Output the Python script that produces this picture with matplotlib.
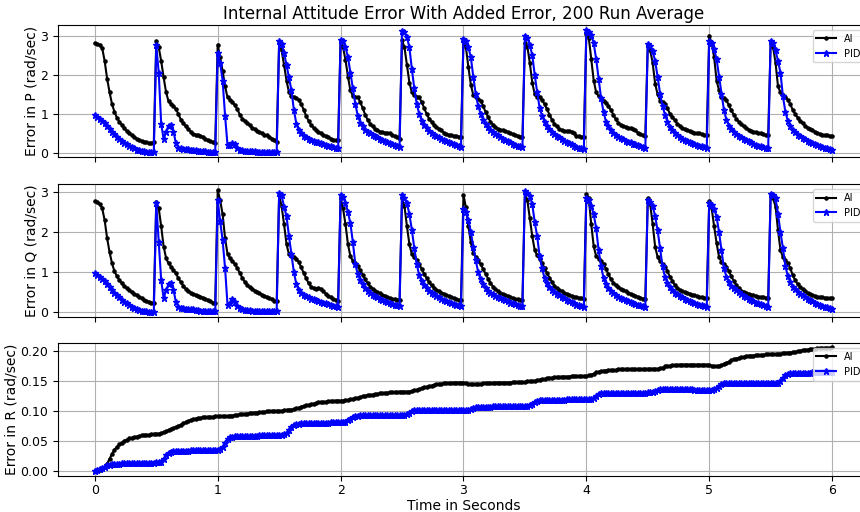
import numpy as np
import matplotlib
matplotlib.use("Agg")
import matplotlib.pyplot as plt
from matplotlib.ticker import MultipleLocator, FormatStrFormatter

# sample step of the logged runs (s)
dt = 0.02

# error in P, one list per half-second disturbance (25 samples each)
p_ai_segments = [
    [2.80, 2.79, 2.76, 2.68, 2.35, 1.90, 1.55, 1.25, 1.05, 0.90, 0.80, 0.72, 0.63, 0.56, 0.50, 0.45, 0.40, 0.36, 0.33, 0.31, 0.29, 0.27, 0.26, 0.26, 0.27],
    [2.86, 2.70, 2.35, 1.93, 1.55, 1.32, 1.26, 1.20, 1.12, 1.00, 0.85, 0.76, 0.68, 0.62, 0.55, 0.49, 0.47, 0.45, 0.44, 0.41, 0.37, 0.33, 0.30, 0.27, 0.26],
    [2.77, 2.44, 2.10, 1.70, 1.42, 1.36, 1.30, 1.22, 1.12, 0.98, 0.88, 0.82, 0.76, 0.71, 0.65, 0.61, 0.57, 0.53, 0.50, 0.47, 0.45, 0.41, 0.37, 0.33, 0.28],
    [2.82, 2.62, 2.25, 1.85, 1.55, 1.45, 1.42, 1.40, 1.35, 1.25, 1.10, 0.95, 0.82, 0.72, 0.65, 0.60, 0.55, 0.50, 0.46, 0.43, 0.40, 0.37, 0.34, 0.33, 0.33],
    [2.85, 2.70, 2.38, 1.95, 1.60, 1.45, 1.43, 1.42, 1.30, 1.15, 0.98, 0.85, 0.75, 0.68, 0.62, 0.58, 0.55, 0.53, 0.52, 0.51, 0.50, 0.47, 0.43, 0.40, 0.37],
    [2.88, 2.70, 2.25, 1.80, 1.55, 1.47, 1.44, 1.42, 1.30, 1.15, 1.00, 0.88, 0.80, 0.72, 0.66, 0.62, 0.58, 0.52, 0.48, 0.46, 0.45, 0.44, 0.43, 0.42, 0.41],
    [2.86, 2.70, 2.20, 1.75, 1.48, 1.42, 1.38, 1.34, 1.20, 1.05, 0.92, 0.80, 0.72, 0.66, 0.62, 0.60, 0.58, 0.56, 0.53, 0.50, 0.48, 0.46, 0.44, 0.42, 0.40],
    [2.80, 2.72, 2.30, 1.80, 1.50, 1.44, 1.42, 1.35, 1.25, 1.12, 0.98, 0.85, 0.75, 0.68, 0.62, 0.58, 0.57, 0.56, 0.56, 0.55, 0.50, 0.44, 0.43, 0.42, 0.42],
    [3.05, 2.95, 2.40, 1.85, 1.55, 1.45, 1.40, 1.34, 1.28, 1.20, 1.10, 0.98, 0.86, 0.78, 0.72, 0.69, 0.67, 0.65, 0.63, 0.62, 0.58, 0.52, 0.48, 0.45, 0.44],
    [2.75, 2.62, 2.30, 1.77, 1.50, 1.34, 1.30, 1.26, 1.15, 1.00, 0.92, 0.84, 0.75, 0.70, 0.65, 0.61, 0.58, 0.56, 0.54, 0.52, 0.51, 0.50, 0.48, 0.46, 0.45],
    [3.00, 2.80, 2.45, 1.85, 1.60, 1.43, 1.40, 1.35, 1.22, 1.09, 0.98, 0.88, 0.80, 0.74, 0.68, 0.63, 0.60, 0.57, 0.55, 0.53, 0.51, 0.50, 0.48, 0.46, 0.45],
    [2.80, 2.70, 2.30, 1.70, 1.55, 1.47, 1.43, 1.36, 1.25, 1.10, 1.00, 0.90, 0.82, 0.76, 0.70, 0.65, 0.61, 0.58, 0.55, 0.52, 0.49, 0.47, 0.46, 0.45, 0.44],
]
p_ai_last = 0.43

p_pid_segments = [
    [0.97, 0.93, 0.88, 0.82, 0.76, 0.69, 0.62, 0.55, 0.48, 0.42, 0.36, 0.31, 0.26, 0.22, 0.18, 0.15, 0.12, 0.09, 0.07, 0.05, 0.04, 0.03, 0.02, 0.02, 0.02],
    [2.75, 2.05, 0.75, 0.35, 0.55, 0.70, 0.72, 0.55, 0.25, 0.14, 0.12, 0.11, 0.10, 0.10, 0.09, 0.08, 0.07, 0.06, 0.05, 0.04, 0.04, 0.03, 0.03, 0.03, 0.03],
    [2.55, 2.30, 1.85, 0.95, 0.20, 0.20, 0.26, 0.22, 0.13, 0.09, 0.07, 0.06, 0.05, 0.05, 0.04, 0.04, 0.03, 0.03, 0.03, 0.02, 0.02, 0.02, 0.02, 0.02, 0.02],
    [2.85, 2.78, 2.55, 2.25, 1.93, 1.60, 1.10, 0.75, 0.58, 0.50, 0.44, 0.40, 0.37, 0.34, 0.31, 0.29, 0.27, 0.25, 0.23, 0.21, 0.19, 0.17, 0.15, 0.14, 0.13],
    [2.89, 2.85, 2.70, 2.45, 2.05, 1.65, 1.25, 0.95, 0.78, 0.68, 0.60, 0.54, 0.50, 0.46, 0.43, 0.40, 0.37, 0.34, 0.31, 0.28, 0.26, 0.23, 0.21, 0.18, 0.15],
    [3.11, 3.08, 2.96, 2.70, 2.15, 1.65, 1.25, 1.00, 0.83, 0.72, 0.63, 0.56, 0.51, 0.47, 0.43, 0.40, 0.36, 0.33, 0.30, 0.27, 0.25, 0.22, 0.20, 0.18, 0.16],
    [2.92, 2.85, 2.70, 2.45, 1.95, 1.50, 1.20, 1.00, 0.85, 0.75, 0.67, 0.60, 0.54, 0.49, 0.45, 0.41, 0.37, 0.33, 0.30, 0.27, 0.24, 0.21, 0.19, 0.17, 0.15],
    [3.00, 2.95, 2.75, 2.50, 2.00, 1.55, 1.15, 0.95, 0.80, 0.70, 0.62, 0.55, 0.49, 0.44, 0.40, 0.36, 0.32, 0.28, 0.25, 0.22, 0.19, 0.16, 0.14, 0.12, 0.10],
    [3.13, 3.10, 3.02, 2.80, 2.40, 1.90, 1.40, 1.05, 0.80, 0.68, 0.58, 0.52, 0.47, 0.42, 0.38, 0.35, 0.32, 0.29, 0.27, 0.24, 0.22, 0.20, 0.17, 0.15, 0.13],
    [2.79, 2.74, 2.60, 2.35, 1.95, 1.52, 1.20, 0.98, 0.80, 0.66, 0.58, 0.51, 0.45, 0.41, 0.37, 0.34, 0.31, 0.28, 0.25, 0.23, 0.21, 0.19, 0.17, 0.15, 0.14],
    [2.85, 2.80, 2.65, 2.40, 1.95, 1.52, 1.10, 0.85, 0.70, 0.61, 0.55, 0.49, 0.44, 0.40, 0.36, 0.33, 0.30, 0.27, 0.24, 0.21, 0.19, 0.17, 0.15, 0.13, 0.12],
    [2.87, 2.80, 2.62, 2.35, 2.05, 1.45, 1.05, 0.82, 0.68, 0.60, 0.53, 0.47, 0.43, 0.39, 0.35, 0.32, 0.29, 0.26, 0.23, 0.20, 0.18, 0.16, 0.14, 0.12, 0.11],
]
p_pid_last = 0.09

# error in Q
q_ai_segments = [
    [2.77, 2.75, 2.70, 2.60, 2.30, 1.85, 1.50, 1.22, 1.02, 0.90, 0.80, 0.72, 0.65, 0.60, 0.55, 0.50, 0.46, 0.43, 0.39, 0.35, 0.31, 0.28, 0.26, 0.24, 0.23],
    [2.75, 2.60, 2.15, 1.64, 1.35, 1.22, 1.14, 1.06, 0.97, 0.85, 0.75, 0.66, 0.58, 0.53, 0.49, 0.46, 0.43, 0.41, 0.39, 0.36, 0.33, 0.30, 0.27, 0.24, 0.23],
    [3.05, 2.80, 2.45, 1.85, 1.45, 1.35, 1.28, 1.20, 1.10, 0.98, 0.86, 0.76, 0.68, 0.62, 0.58, 0.54, 0.50, 0.47, 0.44, 0.41, 0.38, 0.35, 0.32, 0.29, 0.27],
    [2.92, 2.65, 2.20, 1.70, 1.45, 1.40, 1.37, 1.33, 1.25, 1.12, 0.98, 0.85, 0.72, 0.64, 0.60, 0.58, 0.60, 0.58, 0.52, 0.46, 0.41, 0.37, 0.34, 0.31, 0.29],
    [2.85, 2.60, 2.20, 1.70, 1.40, 1.28, 1.22, 1.15, 1.05, 0.93, 0.82, 0.72, 0.64, 0.59, 0.54, 0.50, 0.47, 0.44, 0.41, 0.38, 0.35, 0.33, 0.32, 0.31, 0.30],
    [2.85, 2.65, 2.15, 1.70, 1.45, 1.38, 1.30, 1.20, 1.08, 0.96, 0.85, 0.75, 0.67, 0.61, 0.56, 0.52, 0.49, 0.46, 0.43, 0.40, 0.37, 0.35, 0.33, 0.31, 0.30],
    [2.94, 2.62, 2.15, 1.75, 1.48, 1.38, 1.30, 1.20, 1.08, 0.96, 0.84, 0.73, 0.64, 0.58, 0.53, 0.49, 0.46, 0.43, 0.40, 0.37, 0.35, 0.33, 0.32, 0.31, 0.30],
    [2.97, 2.80, 2.35, 1.90, 1.55, 1.42, 1.32, 1.22, 1.10, 0.98, 0.86, 0.76, 0.66, 0.60, 0.56, 0.52, 0.49, 0.46, 0.43, 0.40, 0.38, 0.37, 0.36, 0.35, 0.34],
    [2.96, 2.85, 2.20, 1.65, 1.40, 1.34, 1.28, 1.20, 1.08, 0.95, 0.82, 0.74, 0.67, 0.62, 0.58, 0.55, 0.52, 0.49, 0.46, 0.43, 0.41, 0.38, 0.36, 0.34, 0.33],
    [2.85, 2.70, 2.20, 1.64, 1.38, 1.28, 1.20, 1.14, 1.02, 0.89, 0.78, 0.68, 0.60, 0.56, 0.53, 0.50, 0.48, 0.46, 0.44, 0.42, 0.40, 0.38, 0.37, 0.36, 0.35],
    [2.77, 2.60, 2.15, 1.73, 1.38, 1.26, 1.20, 1.14, 1.02, 0.90, 0.78, 0.68, 0.60, 0.54, 0.51, 0.48, 0.46, 0.44, 0.42, 0.40, 0.39, 0.38, 0.37, 0.36, 0.35],
    [2.95, 2.85, 2.64, 2.05, 1.55, 1.38, 1.30, 1.22, 1.10, 0.92, 0.80, 0.70, 0.63, 0.58, 0.53, 0.48, 0.45, 0.43, 0.41, 0.39, 0.38, 0.37, 0.36, 0.35, 0.35],
]
q_ai_last = 0.35

q_pid_segments = [
    [0.97, 0.94, 0.89, 0.83, 0.77, 0.70, 0.63, 0.56, 0.49, 0.43, 0.37, 0.31, 0.26, 0.22, 0.18, 0.14, 0.11, 0.08, 0.06, 0.04, 0.03, 0.02, 0.01, 0.01, 0.01],
    [2.72, 1.75, 0.80, 0.35, 0.55, 0.70, 0.72, 0.56, 0.25, 0.14, 0.11, 0.10, 0.09, 0.08, 0.08, 0.07, 0.06, 0.05, 0.04, 0.04, 0.03, 0.03, 0.03, 0.03, 0.03],
    [2.80, 2.28, 1.80, 1.10, 0.18, 0.22, 0.32, 0.26, 0.16, 0.10, 0.07, 0.06, 0.05, 0.05, 0.04, 0.04, 0.03, 0.03, 0.03, 0.02, 0.02, 0.02, 0.02, 0.02, 0.02],
    [2.99, 2.92, 2.64, 2.40, 1.90, 1.45, 1.00, 0.70, 0.55, 0.47, 0.43, 0.40, 0.37, 0.34, 0.32, 0.30, 0.28, 0.26, 0.24, 0.22, 0.20, 0.18, 0.16, 0.15, 0.14],
    [2.92, 2.88, 2.73, 2.50, 2.22, 1.75, 1.20, 0.95, 0.81, 0.70, 0.60, 0.53, 0.48, 0.44, 0.40, 0.37, 0.34, 0.31, 0.28, 0.26, 0.23, 0.21, 0.19, 0.17, 0.16],
    [2.92, 2.85, 2.73, 2.45, 2.06, 1.60, 1.20, 0.92, 0.78, 0.68, 0.60, 0.54, 0.49, 0.45, 0.41, 0.37, 0.34, 0.31, 0.28, 0.25, 0.23, 0.21, 0.19, 0.17, 0.16],
    [2.57, 2.50, 2.30, 2.00, 1.64, 1.30, 1.00, 0.82, 0.70, 0.61, 0.54, 0.49, 0.45, 0.41, 0.38, 0.35, 0.33, 0.30, 0.27, 0.24, 0.22, 0.20, 0.18, 0.16, 0.15],
    [3.02, 2.98, 2.90, 2.70, 2.25, 1.90, 1.40, 1.10, 0.85, 0.72, 0.63, 0.56, 0.50, 0.46, 0.43, 0.39, 0.35, 0.31, 0.28, 0.25, 0.22, 0.19, 0.17, 0.15, 0.13],
    [2.85, 2.80, 2.65, 2.45, 2.10, 1.55, 1.15, 0.85, 0.70, 0.60, 0.53, 0.47, 0.43, 0.39, 0.36, 0.33, 0.31, 0.28, 0.26, 0.24, 0.21, 0.19, 0.17, 0.15, 0.14],
    [2.81, 2.76, 2.66, 2.40, 2.05, 1.60, 1.15, 0.88, 0.72, 0.62, 0.55, 0.49, 0.45, 0.41, 0.37, 0.34, 0.31, 0.28, 0.25, 0.23, 0.21, 0.19, 0.17, 0.15, 0.14],
    [2.72, 2.68, 2.58, 2.39, 2.00, 1.55, 1.10, 0.89, 0.75, 0.66, 0.60, 0.56, 0.50, 0.45, 0.41, 0.37, 0.33, 0.30, 0.27, 0.24, 0.22, 0.20, 0.18, 0.16, 0.14],
    [2.96, 2.92, 2.85, 2.45, 2.00, 1.60, 1.15, 0.90, 0.75, 0.64, 0.57, 0.51, 0.46, 0.42, 0.38, 0.34, 0.30, 0.27, 0.24, 0.21, 0.18, 0.16, 0.14, 0.12, 0.10],
]
q_pid_last = 0.08

# error in R (slowly accumulating)
r_ai_segments = [
    [0.000, 0.001, 0.002, 0.004, 0.007, 0.012, 0.020, 0.028, 0.035, 0.040, 0.044, 0.047, 0.050, 0.052, 0.054, 0.055, 0.056, 0.057, 0.058, 0.059, 0.059, 0.060, 0.060, 0.061, 0.061],
    [0.062, 0.062, 0.063, 0.064, 0.066, 0.068, 0.070, 0.071, 0.073, 0.075, 0.077, 0.079, 0.081, 0.083, 0.085, 0.086, 0.087, 0.088, 0.088, 0.089, 0.089, 0.090, 0.090, 0.090, 0.091],
    [0.091, 0.091, 0.091, 0.091, 0.091, 0.092, 0.092, 0.093, 0.093, 0.094, 0.094, 0.095, 0.095, 0.096, 0.096, 0.097, 0.097, 0.098, 0.098, 0.098, 0.099, 0.099, 0.099, 0.100, 0.100],
    [0.100, 0.100, 0.101, 0.101, 0.102, 0.102, 0.103, 0.104, 0.105, 0.107, 0.108, 0.109, 0.110, 0.111, 0.112, 0.113, 0.114, 0.114, 0.115, 0.115, 0.116, 0.116, 0.116, 0.117, 0.117],
    [0.117, 0.117, 0.118, 0.118, 0.119, 0.120, 0.121, 0.122, 0.123, 0.124, 0.125, 0.126, 0.126, 0.127, 0.128, 0.128, 0.129, 0.129, 0.130, 0.130, 0.131, 0.131, 0.131, 0.131, 0.132],
    [0.132, 0.132, 0.132, 0.132, 0.133, 0.134, 0.135, 0.136, 0.138, 0.139, 0.140, 0.141, 0.142, 0.143, 0.144, 0.145, 0.145, 0.146, 0.146, 0.146, 0.146, 0.147, 0.147, 0.147, 0.147],
    [0.147, 0.146, 0.145, 0.145, 0.144, 0.145, 0.145, 0.145, 0.146, 0.146, 0.146, 0.146, 0.146, 0.147, 0.147, 0.147, 0.147, 0.147, 0.147, 0.147, 0.148, 0.148, 0.148, 0.148, 0.148],
    [0.148, 0.149, 0.149, 0.150, 0.150, 0.151, 0.152, 0.153, 0.153, 0.154, 0.155, 0.155, 0.156, 0.156, 0.156, 0.157, 0.157, 0.157, 0.157, 0.158, 0.158, 0.158, 0.158, 0.158, 0.158],
    [0.158, 0.159, 0.160, 0.162, 0.164, 0.165, 0.166, 0.167, 0.167, 0.168, 0.168, 0.168, 0.168, 0.169, 0.169, 0.169, 0.169, 0.169, 0.169, 0.169, 0.169, 0.169, 0.169, 0.169, 0.170],
    [0.170, 0.170, 0.170, 0.170, 0.170, 0.171, 0.172, 0.174, 0.175, 0.175, 0.176, 0.176, 0.176, 0.177, 0.177, 0.177, 0.177, 0.177, 0.177, 0.177, 0.177, 0.177, 0.177, 0.177, 0.177],
    [0.176, 0.175, 0.174, 0.174, 0.175, 0.176, 0.178, 0.180, 0.182, 0.184, 0.186, 0.187, 0.188, 0.189, 0.190, 0.191, 0.192, 0.192, 0.192, 0.193, 0.193, 0.193, 0.193, 0.194, 0.194],
    [0.194, 0.194, 0.194, 0.195, 0.195, 0.196, 0.196, 0.197, 0.197, 0.198, 0.198, 0.199, 0.200, 0.201, 0.202, 0.202, 0.203, 0.203, 0.203, 0.204, 0.204, 0.204, 0.205, 0.205, 0.205],
]
r_ai_last = 0.206

r_pid_segments = [
    [0.000, 0.001, 0.003, 0.005, 0.007, 0.009, 0.010, 0.011, 0.0115, 0.012, 0.012, 0.0125, 0.0125, 0.013, 0.013, 0.013, 0.013, 0.013, 0.0132, 0.0133, 0.0134, 0.0135, 0.0136, 0.0137, 0.0138],
    [0.014, 0.014, 0.015, 0.020, 0.026, 0.030, 0.032, 0.033, 0.033, 0.033, 0.0332, 0.0334, 0.0336, 0.0338, 0.034, 0.034, 0.0342, 0.0344, 0.0345, 0.0346, 0.0347, 0.0348, 0.0349, 0.035, 0.035],
    [0.035, 0.036, 0.040, 0.047, 0.053, 0.056, 0.057, 0.0575, 0.058, 0.058, 0.058, 0.058, 0.058, 0.0582, 0.0584, 0.0586, 0.0588, 0.059, 0.059, 0.0592, 0.0594, 0.0596, 0.0598, 0.060, 0.060],
    [0.060, 0.060, 0.061, 0.063, 0.068, 0.073, 0.076, 0.078, 0.078, 0.079, 0.079, 0.079, 0.079, 0.0795, 0.0795, 0.080, 0.080, 0.080, 0.080, 0.0805, 0.0805, 0.081, 0.081, 0.081, 0.081],
    [0.081, 0.081, 0.082, 0.084, 0.087, 0.090, 0.092, 0.092, 0.0925, 0.093, 0.093, 0.093, 0.093, 0.093, 0.093, 0.093, 0.093, 0.093, 0.093, 0.093, 0.093, 0.093, 0.093, 0.093, 0.093],
    [0.093, 0.093, 0.094, 0.096, 0.099, 0.101, 0.101, 0.101, 0.101, 0.101, 0.101, 0.101, 0.101, 0.101, 0.101, 0.101, 0.101, 0.101, 0.101, 0.101, 0.101, 0.101, 0.101, 0.101, 0.101],
    [0.101, 0.101, 0.102, 0.103, 0.105, 0.106, 0.107, 0.107, 0.107, 0.107, 0.107, 0.107, 0.1075, 0.1075, 0.1075, 0.1075, 0.108, 0.108, 0.108, 0.108, 0.108, 0.108, 0.108, 0.108, 0.108],
    [0.108, 0.108, 0.109, 0.111, 0.114, 0.117, 0.118, 0.118, 0.118, 0.118, 0.118, 0.118, 0.118, 0.1185, 0.1185, 0.1185, 0.1185, 0.119, 0.119, 0.119, 0.119, 0.119, 0.119, 0.119, 0.119],
    [0.119, 0.119, 0.120, 0.122, 0.125, 0.128, 0.129, 0.129, 0.129, 0.129, 0.129, 0.129, 0.1295, 0.1295, 0.1295, 0.130, 0.130, 0.130, 0.130, 0.130, 0.130, 0.130, 0.130, 0.1305, 0.1305],
    [0.131, 0.131, 0.132, 0.133, 0.135, 0.136, 0.136, 0.136, 0.136, 0.136, 0.136, 0.136, 0.136, 0.136, 0.136, 0.136, 0.136, 0.136, 0.136, 0.1355, 0.135, 0.135, 0.1345, 0.1345, 0.1345],
    [0.135, 0.135, 0.136, 0.138, 0.141, 0.144, 0.146, 0.146, 0.146, 0.146, 0.146, 0.146, 0.146, 0.1465, 0.1465, 0.1465, 0.147, 0.147, 0.147, 0.147, 0.147, 0.147, 0.147, 0.147, 0.147],
    [0.147, 0.147, 0.147, 0.147, 0.150, 0.155, 0.160, 0.162, 0.163, 0.163, 0.163, 0.163, 0.163, 0.1635, 0.1635, 0.1635, 0.1635, 0.164, 0.164, 0.164, 0.164, 0.164, 0.164, 0.164, 0.164],
]
r_pid_last = 0.165

labels = ["AI", "PID"]
ylabels = ["Error in P (rad/sec)", "Error in Q (rad/sec)", "Error in R (rad/sec)"]
title = "Internal Attitude Error With Added Error, 200 Run Average"


def join(segments, last):
    return np.array([v for seg in segments for v in seg] + [last])


series = [
    (join(p_ai_segments, p_ai_last), join(p_pid_segments, p_pid_last)),
    (join(q_ai_segments, q_ai_last), join(q_pid_segments, q_pid_last)),
    (join(r_ai_segments, r_ai_last), join(r_pid_segments, r_pid_last)),
]
t = np.arange(len(series[0][0])) * dt

fig = plt.figure(figsize=(8.6, 5.12), dpi=100)
# the original figure was cropped on the right, so the axes run past the edge
boxes = [
    [0.0674, 0.6934, 0.943, 0.2578],
    [0.0674, 0.3809, 0.943, 0.2592],
    [0.0674, 0.0700, 0.943, 0.2598],
]
ylims = [(-0.10, 3.27), (-0.12, 3.20), (-0.0089, 0.2128)]

axes = []
for i, box in enumerate(boxes):
    ax = fig.add_axes(box, sharex=axes[0] if axes else None)
    ai, pid = series[i]
    ax.plot(t, ai, "k.-", lw=1.5, ms=4.5, label=labels[0])
    ax.plot(t, pid, "b*-", lw=1.5, ms=5, label=labels[1])
    ax.set_ylim(*ylims[i])
    ax.set_ylabel(ylabels[i], fontsize=10, labelpad=1.5)
    ax.grid(True)
    ax.legend(loc="upper right", fontsize=7)
    ax.tick_params(labelsize=9)
    ax.tick_params(axis="x", pad=2.5)
    if i < 2:
        ax.tick_params(labelbottom=False)
    axes.append(ax)

axes[2].yaxis.set_major_locator(MultipleLocator(0.05))
axes[2].yaxis.set_major_formatter(FormatStrFormatter("%.2f"))
axes[0].set_xlim(-0.3, 6.3)
axes[0].set_title(title, fontsize=12, pad=4)
axes[2].set_xlabel("Time in Seconds", fontsize=10, labelpad=1)

fig.savefig("out.png", dpi=100)
